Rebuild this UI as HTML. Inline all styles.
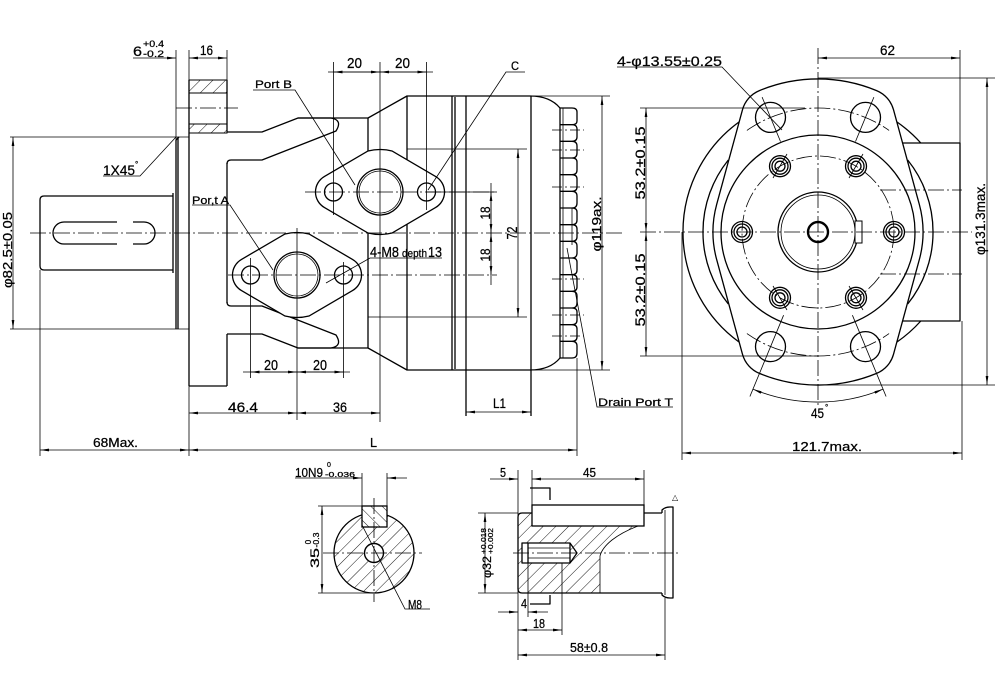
<!DOCTYPE html>
<html><head><meta charset="utf-8"><style>
html,body{margin:0;padding:0;background:#fff;}
svg{display:block;}
.o{stroke:#000;stroke-width:1.3;fill:none;stroke-linejoin:round}
.w{stroke:#000;stroke-width:1.3;fill:#fff}
.t{stroke:#000;stroke-width:0.8;fill:none}
.c{stroke:#000;stroke-width:0.8;fill:none;stroke-dasharray:16 3 2 3}
.d{stroke:#000;stroke-width:0.8;fill:none;marker-start:url(#a);marker-end:url(#a)}
.e{stroke:#000;stroke-width:0.8;fill:none;marker-end:url(#a)}
text{font-family:"Liberation Sans",sans-serif;fill:#000;stroke:#000;stroke-width:0.25}
</style></head><body>
<svg width="1004" height="678" viewBox="0 0 1004 678" xmlns="http://www.w3.org/2000/svg">
<defs>
<marker id="a" viewBox="0 0 10 3" refX="10" refY="1.5" markerWidth="9" markerHeight="2.7" markerUnits="userSpaceOnUse" orient="auto-start-reverse"><path d="M0,0 L10,1.5 L0,3 z" fill="#000"/></marker>
<pattern id="h" patternUnits="userSpaceOnUse" width="9" height="9" patternTransform="rotate(45)"><line x1="0" y1="0" x2="0" y2="9" stroke="#000" stroke-width="0.9"/></pattern>
<pattern id="h2" patternUnits="userSpaceOnUse" width="8" height="8" patternTransform="rotate(-45)"><line x1="0" y1="0" x2="0" y2="8" stroke="#000" stroke-width="0.9"/></pattern>
</defs>

<!-- ================= SIDE VIEW ================= -->
<path class="o" d="M173,196 L44,196 Q40,196 40,200 L40,266 Q40,270 44,270 L173,270"/>
<line class="o" x1="173" y1="193" x2="173" y2="273"/>
<path class="o" d="M64,222 A11 11 0 0 0 64,244 L117,244 M133,244 L144,244 A11 11 0 0 0 144,222 L133,222 M117,222 L64,222"/>
<line class="o" x1="176" y1="140" x2="176" y2="329"/>
<line class="o" x1="178" y1="137" x2="178" y2="329"/>
<line class="o" x1="176" y1="140" x2="179" y2="137"/>
<line class="t" x1="10" y1="137" x2="189" y2="137"/>
<line class="t" x1="10" y1="329" x2="189" y2="329"/>
<rect x="189" y="80" width="38" height="13" fill="url(#h)" stroke="#000" stroke-width="1"/>
<rect x="189" y="124" width="38" height="9" fill="url(#h)" stroke="#000" stroke-width="1"/>
<line class="o" x1="189" y1="80" x2="189" y2="386"/>
<line class="o" x1="189" y1="386" x2="227" y2="386"/>
<line class="o" x1="227" y1="80" x2="227" y2="132"/>
<line class="o" x1="227" y1="163" x2="227" y2="303"/>
<line class="o" x1="227" y1="334" x2="227" y2="386"/>
<line class="c" x1="176" y1="108" x2="238" y2="108"/>
<path class="o" d="M227,132 L262,132 L298,118 L331,118 Q343,120 336,131 L262,160 L231,160 Q227,160 227,164"/>
<path class="o" d="M227,334 L262,334 L298,348 L331,348 Q343,346 336,335 L262,306 L231,306 Q227,306 227,302"/>
<path class="o" d="M298,118 L368,118 L407,96 L452,96"/>
<path class="o" d="M298,348 L368,348 L407,370 L452,370"/>
<line class="o" x1="368" y1="118" x2="368" y2="348"/>
<line class="o" x1="407" y1="96" x2="407" y2="370"/>
<line class="o" x1="452" y1="96" x2="452" y2="370"/>
<line class="o" x1="455" y1="97" x2="455" y2="369"/>
<line class="o" x1="452" y1="96" x2="530" y2="96"/>
<line class="o" x1="452" y1="370" x2="530" y2="370"/>
<path class="o" d="M530,96 Q550,96 560,108 M530,370 Q550,370 560,358"/>
<line class="t" x1="530" y1="96" x2="610" y2="96"/>
<line class="t" x1="530" y1="370" x2="610" y2="370"/>
<line class="o" x1="466" y1="96" x2="466" y2="416"/>
<line class="o" x1="531" y1="96" x2="531" y2="416"/>
<line class="t" x1="407" y1="149" x2="527" y2="149"/>
<line class="t" x1="368" y1="317" x2="527" y2="317"/>
<line class="o" x1="560" y1="108" x2="560" y2="358"/>
<line class="t" x1="563" y1="108" x2="563" y2="358"/>
<path class="o" d="M560,108 L572,108 Q577,108 577,112 L577,121 Q577,124.7 572,124.7 L560,124.7
M572,124.7 Q577,124.7 577,129 L577,137 Q577,141.3 572,141.3 L560,141.3
M572,141.3 Q577,141.3 577,146 L577,153 Q577,158 572,158 L560,158
M572,158 Q577,158 577,162 L577,170 Q577,174.7 572,174.7 L560,174.7
M572,174.7 Q577,174.7 577,179 L577,187 Q577,191.3 572,191.3 L560,191.3
M572,191.3 Q577,191.3 577,196 L577,203 Q577,208 572,208 L560,208
M572,208 Q577,208 577,212 L577,220 Q577,224.7 572,224.7 L560,224.7
M572,224.7 Q577,224.7 577,229 L577,237 Q577,241.3 572,241.3 L560,241.3
M572,241.3 Q577,241.3 577,246 L577,253 Q577,258 572,258 L560,258
M572,258 Q577,258 577,262 L577,270 Q577,274.7 572,274.7 L560,274.7
M572,274.7 Q577,274.7 577,279 L577,287 Q577,291.3 572,291.3 L560,291.3
M572,291.3 Q577,291.3 577,296 L577,303 Q577,308 572,308 L560,308
M572,308 Q577,308 577,312 L577,320 Q577,324.7 572,324.7 L560,324.7
M572,324.7 Q577,324.7 577,329 L577,337 Q577,341.3 572,341.3 L560,341.3
M572,341.3 Q577,341.3 577,346 L577,353 Q577,358 572,358 L560,358"/>
<line class="t" x1="572" y1="208" x2="572" y2="245"/>
<g class="c" style="stroke-dasharray:10 3 2 3">
<line x1="552" y1="130" x2="584" y2="130"/><line x1="552" y1="150" x2="584" y2="150"/>
<line x1="552" y1="187" x2="584" y2="187"/><line x1="552" y1="279" x2="584" y2="279"/>
<line x1="552" y1="315" x2="584" y2="315"/><line x1="552" y1="336" x2="584" y2="336"/>
</g>
<path class="w" d="M324.5,176.4 L368,151 Q380,148 392,151 L435.5,176.4 A18 18 0 0 1 435.5,207.6 L392,233 Q380,236 368,233 L324.5,207.6 A18 18 0 0 1 324.5,176.4 Z"/>
<path class="w" d="M241.5,259.4 L285,234 Q297,231 309,234 L352.5,259.4 A18 18 0 0 1 352.5,290.6 L309,316 Q297,319 285,316 L241.5,290.6 A18 18 0 0 1 241.5,259.4 Z"/>
<circle class="o" cx="380" cy="192" r="23"/><circle class="t" cx="380" cy="192" r="21"/>
<circle class="o" cx="333.5" cy="192" r="9"/><circle class="o" cx="426.5" cy="192" r="9"/>
<circle class="o" cx="297" cy="275" r="23"/><circle class="t" cx="297" cy="275" r="21"/>
<circle class="o" cx="250.5" cy="275" r="9"/><circle class="o" cx="343.5" cy="275" r="9"/>
<line class="c" x1="30" y1="233" x2="622" y2="233"/>
<line class="c" x1="305" y1="192" x2="497" y2="192"/>
<line class="c" x1="228" y1="275" x2="497" y2="275"/>
<line class="t" x1="333.5" y1="62" x2="333.5" y2="215"/>
<line class="t" x1="380" y1="62" x2="380" y2="422"/>
<line class="t" x1="426.5" y1="62" x2="426.5" y2="210"/>
<line class="t" x1="250.5" y1="258" x2="250.5" y2="378"/>
<line class="t" x1="297" y1="228" x2="297" y2="420"/>
<line class="t" x1="343.5" y1="262" x2="343.5" y2="378"/>
<line class="t" x1="176" y1="50" x2="176" y2="140"/>
<line class="t" x1="189" y1="50" x2="189" y2="80"/>
<line class="t" x1="227" y1="50" x2="227" y2="80"/>
<line class="t" x1="40" y1="270" x2="40" y2="456"/>
<line class="t" x1="189" y1="386" x2="189" y2="456"/>
<line class="t" x1="577" y1="358" x2="577" y2="456"/>
<line class="e" x1="133" y1="58" x2="176" y2="58"/>
<line class="d" x1="189" y1="58" x2="227" y2="58"/>
<line class="d" x1="13" y1="137" x2="13" y2="329"/>
<line class="t" x1="328" y1="72" x2="433" y2="72"/>
<line class="d" x1="333.5" y1="72" x2="380" y2="72"/>
<line class="d" x1="380" y1="72" x2="426.5" y2="72"/>
<line class="t" x1="243" y1="372" x2="350" y2="372"/>
<line class="d" x1="250.5" y1="372" x2="297" y2="372"/>
<line class="d" x1="297" y1="372" x2="343.5" y2="372"/>
<line class="d" x1="189" y1="413" x2="297" y2="413"/>
<line class="d" x1="297" y1="413" x2="380" y2="413"/>
<line class="d" x1="466" y1="412" x2="531" y2="412"/>
<line class="d" x1="40" y1="450" x2="189" y2="450"/>
<line class="d" x1="189" y1="450" x2="577" y2="450"/>
<line class="d" x1="602" y1="96" x2="602" y2="370"/>
<line class="d" x1="518" y1="149" x2="518" y2="317"/>
<line class="t" x1="426" y1="192" x2="497" y2="192"/>
<line class="t" x1="491" y1="183" x2="491" y2="285"/>
<line class="d" x1="491" y1="192" x2="491" y2="233"/>
<line class="d" x1="491" y1="233" x2="491" y2="275"/>
<path class="t" d="M253,90 L295,90 L355,185"/>
<path class="t" d="M192,205 L230,205 L273,270"/>
<path class="t" d="M525,72 L506,72 L428,190"/>
<path class="t" d="M442,258 L370,258 L326,283"/>
<path class="t" d="M103,176 L140,176 L176,137"/>
<path class="t" d="M673,407 L597,407 L567,248"/>
<text x="133" y="56" font-size="14" textLength="9" lengthAdjust="spacingAndGlyphs">6</text>
<text x="143" y="47" font-size="9" textLength="21" lengthAdjust="spacingAndGlyphs">+0.4</text>
<text x="143" y="57" font-size="9" textLength="21" lengthAdjust="spacingAndGlyphs">-0.2</text>
<text x="200" y="55" font-size="14" textLength="13" lengthAdjust="spacingAndGlyphs">16</text>
<text x="255" y="88" font-size="11" textLength="37" lengthAdjust="spacingAndGlyphs">Port B</text>
<text x="347" y="68" font-size="15" textLength="15" lengthAdjust="spacingAndGlyphs">20</text>
<text x="395" y="68" font-size="15" textLength="15" lengthAdjust="spacingAndGlyphs">20</text>
<text x="511" y="70" font-size="12" textLength="8" lengthAdjust="spacingAndGlyphs">C</text>
<text x="103" y="175" font-size="14" textLength="32" lengthAdjust="spacingAndGlyphs">1X45</text>
<text x="135" y="167" font-size="8">°</text>
<text x="192" y="204" font-size="11" textLength="37" lengthAdjust="spacingAndGlyphs">Por,t A</text>
<text x="370" y="257" font-size="15" textLength="29" lengthAdjust="spacingAndGlyphs">4-M8</text>
<text x="402" y="257" font-size="11" textLength="25" lengthAdjust="spacingAndGlyphs">depth</text>
<text x="428" y="257" font-size="15" textLength="14" lengthAdjust="spacingAndGlyphs">13</text>
<text transform="translate(490,213) rotate(-90)" text-anchor="middle" font-size="14" textLength="13" lengthAdjust="spacingAndGlyphs">18</text>
<text transform="translate(490,255) rotate(-90)" text-anchor="middle" font-size="14" textLength="13" lengthAdjust="spacingAndGlyphs">18</text>
<text transform="translate(517,233) rotate(-90)" text-anchor="middle" font-size="15" textLength="13" lengthAdjust="spacingAndGlyphs">72</text>
<text transform="translate(601,224) rotate(-90)" text-anchor="middle" font-size="13" textLength="55" lengthAdjust="spacingAndGlyphs">φ119ax.</text>
<text transform="translate(12,250) rotate(-90)" text-anchor="middle" font-size="13" textLength="76" lengthAdjust="spacingAndGlyphs">φ82.5±0.05</text>
<text x="264" y="370" font-size="15" textLength="14" lengthAdjust="spacingAndGlyphs">20</text>
<text x="313" y="370" font-size="15" textLength="14" lengthAdjust="spacingAndGlyphs">20</text>
<text x="228" y="412" font-size="14" textLength="30" lengthAdjust="spacingAndGlyphs">46.4</text>
<text x="333" y="412" font-size="14" textLength="14" lengthAdjust="spacingAndGlyphs">36</text>
<text x="493" y="408" font-size="14" textLength="13" lengthAdjust="spacingAndGlyphs">L1</text>
<text x="93" y="447" font-size="13" textLength="45" lengthAdjust="spacingAndGlyphs">68Max.</text>
<text x="370" y="447" font-size="13" textLength="7" lengthAdjust="spacingAndGlyphs">L</text>
<text x="598" y="406" font-size="11" textLength="75" lengthAdjust="spacingAndGlyphs">Drain Port T</text>

<!-- ================= FRONT VIEW ================= -->
<path class="o" d="M739,122 A136 136 0 0 0 739,342"/>
<path class="o" d="M897,122 A136 136 0 0 1 920.8,143 M920.8,321 A136 136 0 0 1 897,342"/>
<path class="o" d="M728.3,160 A115 115 0 0 0 728.3,304"/>
<path class="o" d="M907.7,160 A115 115 0 0 1 907.7,304"/>
<path class="o" d="M742.5,109.7 A29 29 0 0 1 759.4,90.6 A153 153 0 0 1 876.6,90.6 A29 29 0 0 1 893.5,109.7 L919.3,204.3 A105 105 0 0 1 919.3,259.7 L893.5,354.3 A29 29 0 0 1 876.6,373.4 A153 153 0 0 1 759.4,373.4 A29 29 0 0 1 742.5,354.3 L716.7,259.7 A105 105 0 0 1 716.7,204.3 Z"/>
<path class="o" d="M902.6,143 L960,143 L960,321 L902.6,321"/>
<circle class="o" cx="818" cy="232" r="97"/>
<circle class="c" cx="818" cy="232" r="76"/>
<path class="c" d="M746.9,130.4 A124 124 0 0 1 889.1,130.4 M746.9,333.6 A124 124 0 0 0 889.1,333.6"/>
<circle class="o" cx="770.5" cy="117.4" r="15"/>
<circle class="o" cx="865.5" cy="117.4" r="15"/>
<circle class="o" cx="770.5" cy="346.6" r="15"/>
<circle class="o" cx="865.5" cy="346.6" r="15"/>
<line class="t" x1="780.5" y1="141.5" x2="762.1" y2="97.1"/>
<line class="t" x1="855.5" y1="141.5" x2="873.9" y2="97.1"/>
<line class="t" x1="783.6" y1="315.2" x2="749.9" y2="396.5"/>
<line class="t" x1="852.4" y1="315.2" x2="886.1" y2="396.5"/>
<path class="d" d="M752.9,389.1 A170 170 0 0 0 883.1,389.1"/>
<g>
<circle class="o" cx="856" cy="166.2" r="10.5"/><circle class="o" cx="856" cy="166.2" r="8"/><circle class="o" cx="856" cy="166.2" r="5"/>
<circle class="o" cx="894" cy="232" r="10.5"/><circle class="o" cx="894" cy="232" r="8"/><circle class="o" cx="894" cy="232" r="5"/>
<circle class="o" cx="856" cy="297.8" r="10.5"/><circle class="o" cx="856" cy="297.8" r="8"/><circle class="o" cx="856" cy="297.8" r="5"/>
<circle class="o" cx="780" cy="297.8" r="10.5"/><circle class="o" cx="780" cy="297.8" r="8"/><circle class="o" cx="780" cy="297.8" r="5"/>
<circle class="o" cx="742" cy="232" r="10.5"/><circle class="o" cx="742" cy="232" r="8"/><circle class="o" cx="742" cy="232" r="5"/>
<circle class="o" cx="780" cy="166.2" r="10.5"/><circle class="o" cx="780" cy="166.2" r="8"/><circle class="o" cx="780" cy="166.2" r="5"/>
</g>
<g class="t">
<line x1="849" y1="178" x2="863" y2="154"/><line x1="849" y1="286" x2="863" y2="310"/>
<line x1="773" y1="286" x2="787" y2="310"/><line x1="773" y1="178" x2="787" y2="154"/>
</g>
<circle class="o" cx="818" cy="232" r="40"/>
<circle class="t" cx="818" cy="232" r="37"/>
<rect x="855" y="221" width="7" height="22" fill="#fff" stroke="#000" stroke-width="1"/>
<circle cx="818" cy="232" r="10" fill="none" stroke="#000" stroke-width="2.4"/>
<line class="c" x1="818" y1="48" x2="818" y2="408"/>
<line class="c" x1="640" y1="232" x2="972" y2="232"/>
<line class="c" x1="880" y1="190" x2="962" y2="190"/>
<line class="c" x1="880" y1="274" x2="962" y2="274"/>
<line class="t" x1="960" y1="50" x2="960" y2="143"/>
<line class="d" x1="818" y1="58" x2="960" y2="58"/>
<line class="t" x1="818" y1="78" x2="995" y2="78"/>
<line class="t" x1="818" y1="385" x2="995" y2="385"/>
<line class="d" x1="987" y1="78" x2="987" y2="385"/>
<line class="t" x1="640" y1="108" x2="805" y2="108"/>
<line class="t" x1="640" y1="356" x2="818" y2="356"/>
<line class="d" x1="646" y1="108" x2="646" y2="232"/>
<line class="d" x1="646" y1="232" x2="646" y2="356"/>
<line class="t" x1="682" y1="232" x2="682" y2="460"/>
<line class="t" x1="962" y1="321" x2="962" y2="460"/>
<line class="d" x1="682" y1="453" x2="962" y2="453"/>
<path class="t" d="M617,67 L722,67 L782,130"/>
<text x="617" y="66" font-size="14" textLength="105" lengthAdjust="spacingAndGlyphs">4-φ13.55±0.25</text>
<text x="880" y="55" font-size="14" textLength="15" lengthAdjust="spacingAndGlyphs">62</text>
<text transform="translate(645,163) rotate(-90)" text-anchor="middle" font-size="14" textLength="73" lengthAdjust="spacingAndGlyphs">53.2±0.15</text>
<text transform="translate(645,290) rotate(-90)" text-anchor="middle" font-size="14" textLength="73" lengthAdjust="spacingAndGlyphs">53.2±0.15</text>
<text transform="translate(985,219) rotate(-90)" text-anchor="middle" font-size="14" textLength="72" lengthAdjust="spacingAndGlyphs">φ131.3max.</text>
<text x="811" y="418" font-size="14" textLength="13" lengthAdjust="spacingAndGlyphs">45</text>
<text x="825" y="410" font-size="8">°</text>
<text x="792" y="451" font-size="13" textLength="70" lengthAdjust="spacingAndGlyphs">121.7max.</text>

<!-- ================= KEY SECTION ================= -->
<circle cx="374" cy="553" r="40" fill="url(#h)" stroke="#000" stroke-width="1.3"/>
<rect x="362" y="506" width="25" height="21" fill="#fff" stroke="none"/>
<rect x="362" y="506" width="25" height="21" fill="url(#h2)" stroke="#000" stroke-width="1.3"/>
<circle cx="374" cy="553" r="9.5" fill="#fff" stroke="#000" stroke-width="1.4"/>
<line class="c" x1="323" y1="553" x2="422" y2="553"/>
<line class="c" x1="374" y1="498" x2="374" y2="602"/>
<line class="t" x1="318" y1="506" x2="362" y2="506"/>
<line class="t" x1="318" y1="593" x2="374" y2="593"/>
<line class="d" x1="322" y1="506" x2="322" y2="593"/>
<line class="t" x1="362" y1="473" x2="362" y2="506"/>
<line class="t" x1="387" y1="473" x2="387" y2="506"/>
<line class="e" x1="295" y1="478" x2="362" y2="478"/>
<line class="e" x1="407" y1="478" x2="387" y2="478"/>
<path class="t" d="M430,609 L405,609 L362,525"/>
<text x="295" y="477" font-size="13" textLength="28" lengthAdjust="spacingAndGlyphs">10N9</text>
<text x="327" y="467" font-size="7">0</text>
<text x="325" y="477" font-size="7" textLength="30" lengthAdjust="spacingAndGlyphs">-0.036</text>
<text transform="translate(319,558) rotate(-90)" text-anchor="middle" font-size="12" textLength="20" lengthAdjust="spacingAndGlyphs">35</text>
<text transform="translate(319,540) rotate(-90)" text-anchor="middle" font-size="8" textLength="15" lengthAdjust="spacingAndGlyphs">-0.3</text>
<text transform="translate(311,542) rotate(-90)" text-anchor="middle" font-size="8">0</text>
<text x="408" y="609" font-size="13" textLength="14" lengthAdjust="spacingAndGlyphs">M8</text>

<!-- ================= SHAFT END ================= -->
<path d="M522,513 L532,513 L532,526 L640,526 Q625,530 612,540 Q602,548 600,556 L600,593 L522,593 Q518,593 518,589 L518,517 Q518,513 522,513 Z" fill="url(#h)" stroke="none"/>
<path class="t" d="M644,524 Q625,530 612,540 Q602,548 600,556 L600,593"/>
<path class="o" d="M532,513 L522,513 Q518,513 518,517 L518,589 Q518,593 522,593 L662,593"/>
<line class="o" x1="644" y1="513" x2="662" y2="513"/>
<rect x="532" y="505" width="112" height="21" fill="#fff" stroke="#000" stroke-width="1.3"/>
<path class="o" d="M662,513 L662,510 Q665,507 670,507 L673,507 L673,598 L670,598 Q665,598 662,595 L662,593"/>
<line class="t" x1="665" y1="510" x2="665" y2="595"/>
<rect x="522" y="543" width="48" height="20" fill="#fff" stroke="none"/>
<path class="o" d="M522,543 L570,543 L577,553 L570,563 L522,563 Z"/>
<line class="t" x1="528" y1="548" x2="570" y2="548"/>
<line class="t" x1="528" y1="558" x2="570" y2="558"/>
<line class="o" x1="528" y1="543" x2="528" y2="563"/>
<line class="o" x1="570" y1="543" x2="570" y2="563"/>
<line class="c" x1="513" y1="553" x2="680" y2="553"/>
<path class="o" d="M530,488 L550,488 L550,500"/>
<path class="o" d="M550,595 L550,604 L530,604"/>
<text x="672" y="500" font-size="8" style="stroke-width:0">△</text>
<line class="t" x1="518" y1="470" x2="518" y2="660"/>
<line class="t" x1="532" y1="470" x2="532" y2="505"/>
<line class="t" x1="644" y1="470" x2="644" y2="505"/>
<line class="e" x1="490" y1="479" x2="518" y2="479"/>
<line class="d" x1="532" y1="479" x2="644" y2="479"/>
<line class="t" x1="478" y1="513" x2="518" y2="513"/>
<line class="t" x1="478" y1="593" x2="518" y2="593"/>
<line class="d" x1="485" y1="513" x2="485" y2="593"/>
<line class="t" x1="528" y1="563" x2="528" y2="617"/>
<line class="e" x1="498" y1="612" x2="518" y2="612"/>
<line class="e" x1="548" y1="612" x2="528" y2="612"/>
<line class="t" x1="562" y1="563" x2="562" y2="635"/>
<line class="d" x1="518" y1="630" x2="562" y2="630"/>
<line class="t" x1="665" y1="598" x2="665" y2="660"/>
<line class="d" x1="518" y1="655" x2="665" y2="655"/>
<text x="500" y="477" font-size="13" textLength="6" lengthAdjust="spacingAndGlyphs">5</text>
<text x="583" y="477" font-size="13" textLength="13" lengthAdjust="spacingAndGlyphs">45</text>
<text transform="translate(491,567) rotate(-90)" text-anchor="middle" font-size="12" textLength="22" lengthAdjust="spacingAndGlyphs">φ32</text>
<text transform="translate(486,541) rotate(-90)" text-anchor="middle" font-size="7" textLength="26" lengthAdjust="spacingAndGlyphs">+0.018</text>
<text transform="translate(493,541) rotate(-90)" text-anchor="middle" font-size="7" textLength="26" lengthAdjust="spacingAndGlyphs">+0.002</text>
<text x="521" y="608" font-size="13" textLength="6" lengthAdjust="spacingAndGlyphs">4</text>
<text x="533" y="628" font-size="13" textLength="12" lengthAdjust="spacingAndGlyphs">18</text>
<text x="570" y="652" font-size="13" textLength="38" lengthAdjust="spacingAndGlyphs">58±0.8</text>
</svg>
</body></html>
